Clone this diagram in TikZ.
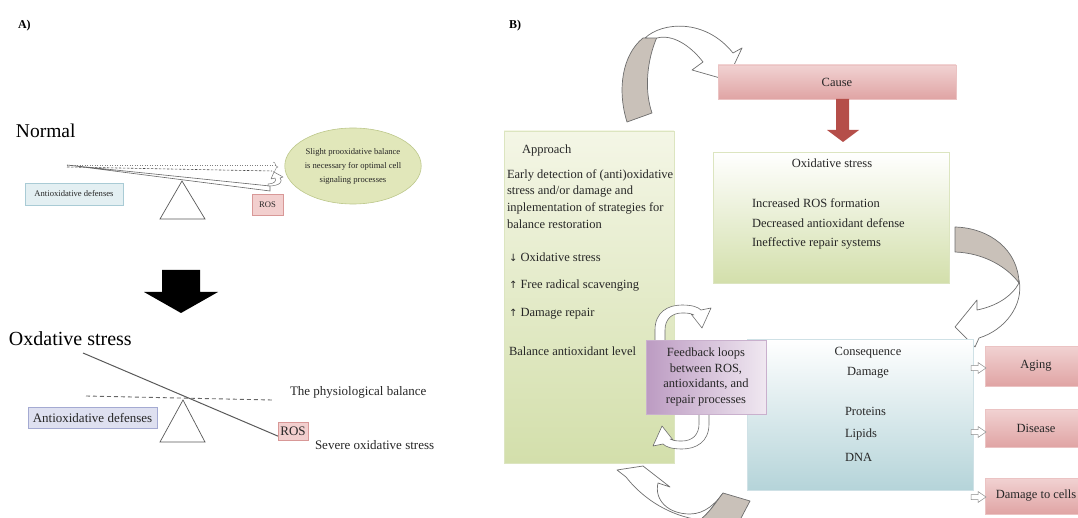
\documentclass[tikz,border=0pt]{standalone}
\usepackage{fontspec}
\setmainfont{Liberation Serif}
\newfontfamily\symf{DejaVu Sans}
\usetikzlibrary{shapes.geometric,calc}
\definecolor{txtc}{HTML}{262626}
\definecolor{gbot}{HTML}{D3DFAB}
\definecolor{gtopA}{HTML}{F4F6E6}
\definecolor{gbord}{HTML}{DCE5C0}
\definecolor{bbot}{HTML}{B5D4D9}
\definecolor{bbord}{HTML}{CFE1E6}
\definecolor{ptop}{HTML}{F1D2D2}
\definecolor{pmid}{HTML}{FBEFEF}
\definecolor{pbot}{HTML}{E0A4A4}
\definecolor{pbord}{HTML}{EBC3C3}
\definecolor{vleft}{HTML}{BC9BC2}
\definecolor{vright}{HTML}{F0E8F1}
\definecolor{vbord}{HTML}{C9B0CD}
\definecolor{arrgray}{HTML}{C9C1B9}
\definecolor{arrline}{HTML}{6E6E6E}
\definecolor{redarr}{HTML}{B54E49}
\definecolor{ellf}{HTML}{E1E7BA}
\definecolor{ellb}{HTML}{BCC78A}
\definecolor{aboxf}{HTML}{E3EFF2}
\definecolor{aboxb}{HTML}{A9CBD5}
\definecolor{lboxf}{HTML}{DEE0F0}
\definecolor{lboxb}{HTML}{A4AAD2}
\definecolor{rosf}{HTML}{F2CFCE}
\definecolor{rosb}{HTML}{D89897}
\begin{document}
\begin{tikzpicture}[x=1pt,y=-1pt,
  every node/.style={inner sep=0pt,outer sep=0pt},
  tb/.style={font=\fontsize{12.5}{15.5}\selectfont, text=txtc},
  ts/.style={font=\fontsize{8.6}{14}\selectfont, text=txtc},
  tm/.style={font=\fontsize{13}{15}\selectfont, text=txtc},
  gbox/.style={rectangle, draw=gbord, line width=0.6pt, bottom color=gbot},
  bbox/.style={rectangle, draw=bbord, line width=0.6pt, top color=white, bottom color=bbot},
  pbox/.style={rectangle, draw=pbord, line width=0.6pt, top color=ptop, middle color=pmid, bottom color=pbot},
  vbox/.style={rectangle, draw=vbord, line width=0.6pt, left color=vleft, right color=vright},
  cur/.style={draw=arrline, line width=0.7pt, line join=round},
  loopst/.style={draw=arrline, line width=0.6pt, fill=white, line join=round},
  smallarr/.style={draw=arrline!80, line width=0.5pt, fill=white},
  tri/.style={draw=black!65, line width=0.7pt, fill=white},
]
\useasboundingbox (0,0) rectangle (1078,518);
\clip (0,0) rectangle (1078,518);

% ---------------- Panel A ----------------
\node[font=\bfseries\fontsize{12}{14}\selectfont, anchor=west] (la) at (18,26) {A)};
\node[font=\fontsize{19.5}{21}\selectfont, anchor=west] (normal) at (16,131) {Normal};

% top balance
\draw[black!50, line width=0.5pt, dotted] (67,165) -- (275,165);
\draw[black!70, line width=0.6pt, dashed, dash pattern=on 2.5pt off 1.5pt] (67,167) -- (272,171);
\draw[black!55, line width=0.4pt] (273,162) .. controls (276,162) and (275,167) .. (278,167) .. controls (275,167) and (276,172) .. (273,172);
\draw[tri] (182,181) -- (205,219) -- (160,219) -- cycle;
\draw[black!60, line width=0.6pt, fill=white] (67,165) -- (270,186) -- (270,191) -- cycle;
\draw[black!55, line width=0.5pt, fill=white, line join=round] (268,186) .. controls (281,186) and (283,181) .. (280,178) -- (283,177) -- (274,172) -- (271,179) -- (275,178) .. controls (277,181) and (274,184) .. (268,184) -- cycle;

\node[rectangle, draw=aboxb, fill=aboxf, line width=0.5pt, minimum width=98pt, minimum height=22pt, ts] (adefA) at (74,194) {Antioxidative defenses};
\node[rectangle, draw=rosb, fill=rosf, line width=0.5pt, minimum width=31pt, minimum height=21pt, ts] (rosA) at (267.5,204.5) {ROS};
\node[ellipse, draw=ellb, fill=ellf, line width=0.6pt, minimum width=132pt, minimum height=76pt, align=center, ts] (ell) at (353,166) {Slight prooxidative balance\\is necessary for optimal cell\\signaling processes};

% black arrow
\fill[black] (162,270) -- (200,270) -- (200,292) -- (218,292) -- (181,313) -- (144,292) -- (162,292) -- cycle;

\node[font=\fontsize{20}{22}\selectfont, anchor=west] (oxd) at (9,339) {Oxdative stress};

% bottom balance
\draw[tri] (183,400) -- (205,442) -- (160,442) -- cycle;
\draw[black!60, line width=0.9pt, dashed, dash pattern=on 4pt off 3pt] (86,396) -- (272,400);
\draw[black!65, line width=1pt] (83,353) -- (280,437);
\node[rectangle, draw=lboxb, fill=lboxf, line width=0.5pt, minimum width=129pt, minimum height=21pt, tm] (adefB) at (92.5,417.5) {Antioxidative defenses};
\node[rectangle, draw=rosb, fill=rosf, line width=0.5pt, minimum width=30pt, minimum height=18pt, tm] (rosB) at (293,431.5) {ROS};
\node[tm, anchor=west] (phys) at (290,392) {The physiological balance};
\node[tm, anchor=west] (severe) at (315,445) {Severe oxidative stress};

% ---------------- Panel B ----------------
\node[font=\bfseries\fontsize{12}{14}\selectfont, anchor=west] (lb) at (509,26) {B)};

% top curved arrow
\draw[cur, fill=arrgray] (627,122) .. controls (617,90) and (622,55) .. (643,38) -- (657,37) .. controls (647,60) and (644,90) .. (652,113) -- cycle;
\draw[cur, fill=white] (645,38) .. controls (662,22) and (705,18) .. (733,53) -- (742,48) -- (727,80) -- (692,70) -- (703,62) .. controls (690,45) and (672,34) .. (657,38) -- cycle;

% right curved arrow
\draw[cur, fill=arrgray] (955,227) .. controls (990,228) and (1018,250) .. (1019,283) .. controls (1008,268) and (985,253) .. (955,252) -- cycle;
\draw[cur, fill=white] (1019,280) .. controls (1024,305) and (1005,330) .. (979,338) -- (975,347) -- (955,327) -- (977,300) -- (977,310) .. controls (997,306) and (1012,296) .. (1019,283) -- cycle;

% bottom curved arrow
\draw[cur, fill=white] (700,520) .. controls (665,515) and (640,495) .. (626,477) -- (617,470) -- (643,466) -- (670,487) -- (658,483) .. controls (654,500) and (668,514) .. (690,514) .. controls (705,514) and (716,503) .. (723,493) .. controls (716,502) and (710,512) .. (700,520) -- cycle;
\draw[cur, fill=arrgray] (723,493) -- (750,501) -- (740,520) -- (700,520) .. controls (710,512) and (716,502) .. (723,493) -- cycle;

% boxes
\node[gbox, top color=gtopA, minimum width=170pt, minimum height=332pt] (approach) at (589,297) {};
\node[pbox, minimum width=238pt, minimum height=34pt, tb] (cause) at (837,82) {Cause};
\node[gbox, top color=white, minimum width=236pt, minimum height=131pt] (oxs) at (831,217.5) {};
\node[bbox, minimum width=226pt, minimum height=151pt] (cons) at (860,414.5) {};

% red arrow
\fill[redarr] ($(cause.south)+(-1,0)$) -- ++(13,0) -- ++(0,31) -- ++(10,0) -- ++(-16,12) -- ++(-16,-12) -- ++(9,0) -- cycle;

% feedback loops
\def\loopshape{(655,345) -- (655,330) .. controls (655,312) and (668,305) .. (682,305) .. controls (692,305) and (698,307) .. (701,310) -- (711,308) -- (702,328) -- (691,314) -- (694,315) .. controls (690,313) and (686,313) .. (682,313) .. controls (672,313) and (665,319) .. (665,330) -- (665,345) -- cycle}
\draw[loopst] \loopshape;
\begin{scope}[rotate around={180:(682,377)}]
\draw[loopst] \loopshape;
\end{scope}
\node[vbox, minimum width=120pt, minimum height=74pt, align=center, tb] (fb) at (706,377) {Feedback loops\\between ROS,\\antioxidants, and\\repair processes};

% approach texts
\node[tb, anchor=west] (ap0) at (522,150) {Approach};
\node[tb, anchor=west] (ap1) at (507,175) {Early detection of (anti)oxidative};
\node[tb, anchor=west] (ap2) at (507,191.5) {stress and/or damage and};
\node[tb, anchor=west] (ap3) at (507,208) {inplementation of strategies for};
\node[tb, anchor=west] (ap4) at (507,224.5) {balance restoration};
\node[tb, anchor=west] (ap5) at (509,257) {{\symf\fontsize{10}{12}\selectfont ↓} Oxidative stress};
\node[tb, anchor=west] (ap6) at (509,286) {{\symf\fontsize{10}{12}\selectfont ↑} Free radical scavenging};
\node[tb, anchor=west] (ap7) at (509,314) {{\symf\fontsize{10}{12}\selectfont ↑} Damage repair};
\node[tb, anchor=west] (ap8) at (509,351) {Balance antioxidant level};

% oxidative stress texts
\node[tb] (ox0) at (832,163) {Oxidative stress};
\node[tb, anchor=west] (ox1) at (752,203) {Increased ROS formation};
\node[tb, anchor=west] (ox2) at (752,223) {Decreased antioxidant defense};
\node[tb, anchor=west] (ox3) at (752,243) {Ineffective repair systems};

% consequence texts
\node[tb] (c0) at (868,353) {Consequence};
\node[tb] (c1) at (868,373) {Damage};
\node[tb, anchor=west] (c2) at (845,411) {Proteins};
\node[tb, anchor=west] (c3) at (845,434) {Lipids};
\node[tb, anchor=west] (c4) at (845,457) {DNA};

% outcomes
\node[pbox, minimum width=101pt, minimum height=40pt, tb] (aging) at (1036,366) {Aging};
\node[pbox, minimum width=101pt, minimum height=38pt, tb] (disease) at (1036,428) {Disease};
\node[pbox, minimum width=101pt, minimum height=36pt, tb] (dcells) at (1036,496) {Damage to cells};

\foreach \yy in {368,432,497}{
  \draw[smallarr, shift={(971,\yy)}] (0,-2.5) -- (7,-2.5) -- (7,-5.5) -- (15,0) -- (7,5.5) -- (7,2.5) -- (0,2.5) -- cycle;
}
\end{tikzpicture}
\end{document}
